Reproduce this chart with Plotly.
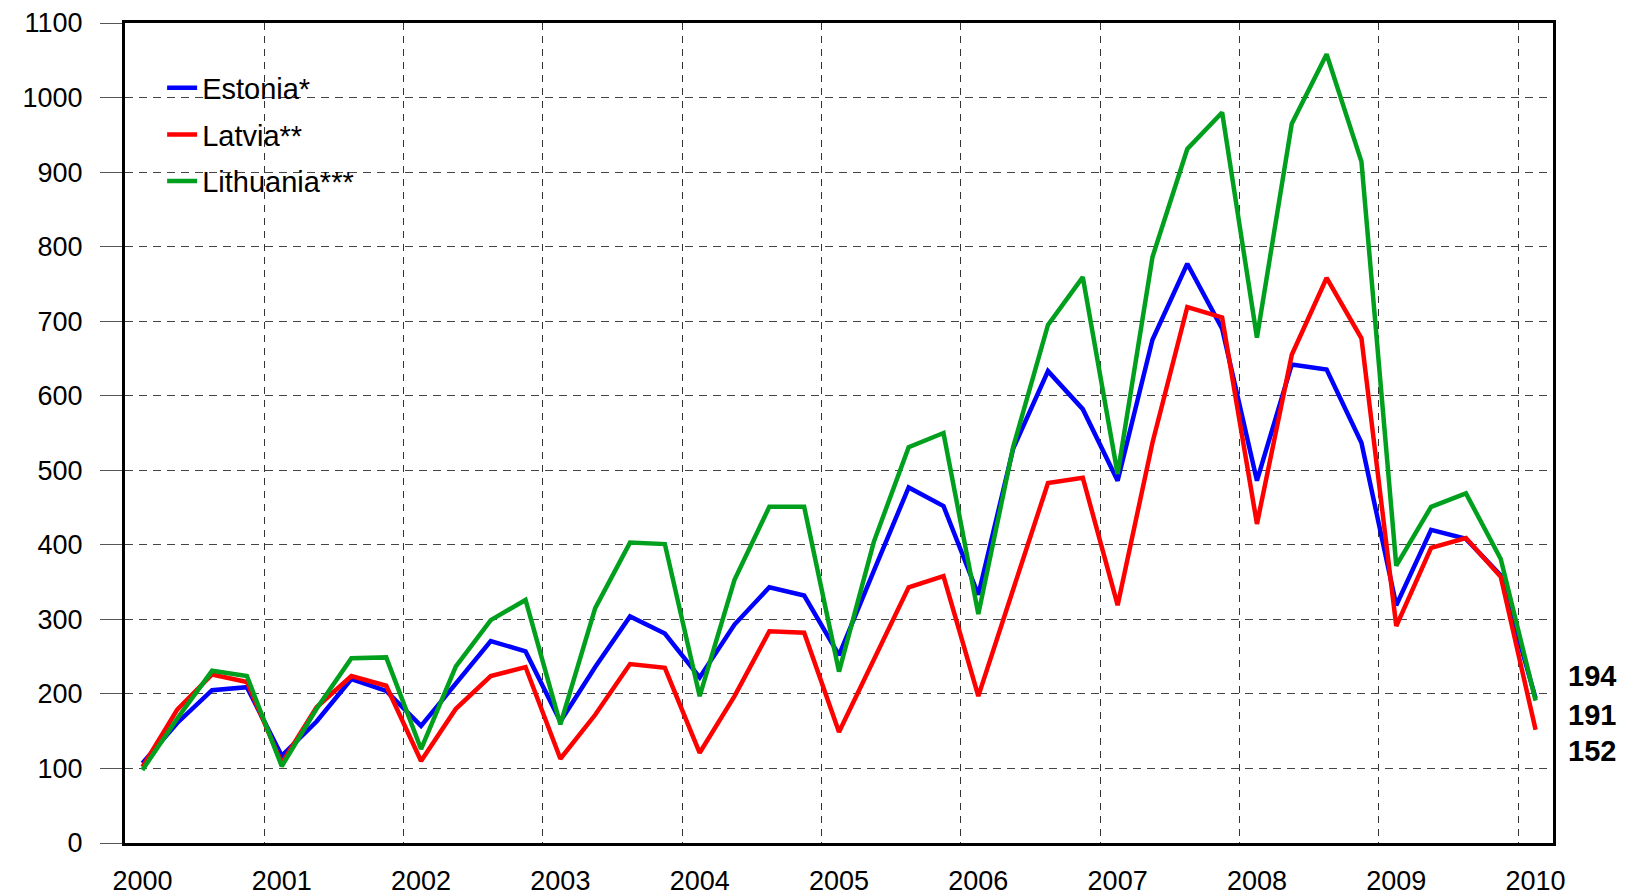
import plotly.graph_objects as go

years = list(range(2000, 2011))
quarters = [f"{y}Q{q}" for y in years[:-1] for q in range(1, 5)] + ["2010Q1"]

estonia = [107, 161, 205, 209, 117, 163, 220, 204, 157, 214, 271, 257, 163, 236, 304, 281,
           222, 293, 343, 332, 252, 365, 477, 452, 333, 529, 633, 582, 486, 675, 777, 690,
           486, 642, 635, 537, 319, 420, 408, 359, 194]
latvia = [102, 179, 226, 216, 107, 182, 224, 211, 110, 180, 224, 236, 113, 172, 240, 235,
          121, 197, 284, 282, 149, 245, 343, 358, 197, 340, 483, 490, 319, 537, 719, 705,
          428, 655, 758, 677, 291, 396, 409, 357, 152]
lithuania = [98, 167, 231, 224, 103, 180, 248, 249, 126, 237, 299, 326, 159, 315, 403, 401,
             197, 353, 451, 451, 230, 404, 531, 550, 307, 531, 695, 759, 495, 786, 931, 980,
             678, 965, 1058, 914, 372, 451, 469, 381, 191]

series = [("Estonia*", estonia, "#0000FF"),
          ("Latvia**", latvia, "#FF0000"),
          ("Lithuania***", lithuania, "#00A01E")]

x = list(range(len(quarters)))
year_pos = [i for i, q in enumerate(quarters) if q.endswith("Q1")]
bounds = [p - 0.5 for p in year_pos[1:]]

FONT = "Arial, Liberation Sans, sans-serif"
FS = 29
TICK_FS = 27

fig = go.Figure()
for i, (name, vals, col) in enumerate(series):
    fig.add_trace(go.Scatter(x=x, y=vals, name=name, mode="lines",
                             line=dict(color=col, width=4.5), legendgroup=str(i)))

# end-of-series value labels (order as in the original: Estonia, Lithuania, Latvia)
end_labels = [(estonia[-1], 224), (lithuania[-1], 172), (latvia[-1], 123)]
for val, ypos in end_labels:
    fig.add_annotation(x=1, xref="paper", y=ypos, yref="y", text=f"<b>{val}</b>",
                       showarrow=False, xanchor="left", xshift=13,
                       font=dict(size=FS, color="black", family=FONT))

fig.update_layout(
    width=1630, height=896,
    margin=dict(l=117, r=85, t=15, b=61),
    plot_bgcolor="white", paper_bgcolor="white",
    font=dict(family=FONT, size=FS, color="black"),
    showlegend=True,
    legend=dict(x=0.026, y=0.952, xanchor="left", yanchor="top",
                bgcolor="rgba(0,0,0,0)", font=dict(size=FS), tracegroupgap=6),
    xaxis=dict(range=[-0.5, len(quarters) - 0.5], tickvals=bounds, showticklabels=False,
               ticks="", showgrid=True, gridcolor="#333", griddash="7px,6px", gridwidth=1,
               showline=True, linecolor="black", linewidth=3, mirror=True, zeroline=False,
               automargin=False),
    xaxis2=dict(range=[-0.5, len(quarters) - 0.5], overlaying="x", anchor="y", side="bottom",
                tickvals=year_pos, ticktext=[str(y) for y in years], ticks="",
                showgrid=False, showline=False, zeroline=False, ticklabelstandoff=19,
                tickfont=dict(size=TICK_FS), automargin=False, ticklabeloverflow="allow"),
    yaxis=dict(range=[0, 1100], tickvals=list(range(0, 1101, 100)), showgrid=True,
               gridcolor="#444", griddash="8px,6px", gridwidth=1,
               ticks="outside", ticklen=22, tickcolor="#555", tickwidth=1,
               ticklabelstandoff=12, tickfont=dict(size=TICK_FS), ticklabeloverflow="allow",
               showline=True, linecolor="black", linewidth=3, mirror=True, zeroline=False,
               automargin=False),
)
# invisible helper trace to activate the label axis
fig.add_trace(go.Scatter(x=[x[0]], y=[None], xaxis="x2", showlegend=False, hoverinfo="skip"))

fig.write_html("out.html")
